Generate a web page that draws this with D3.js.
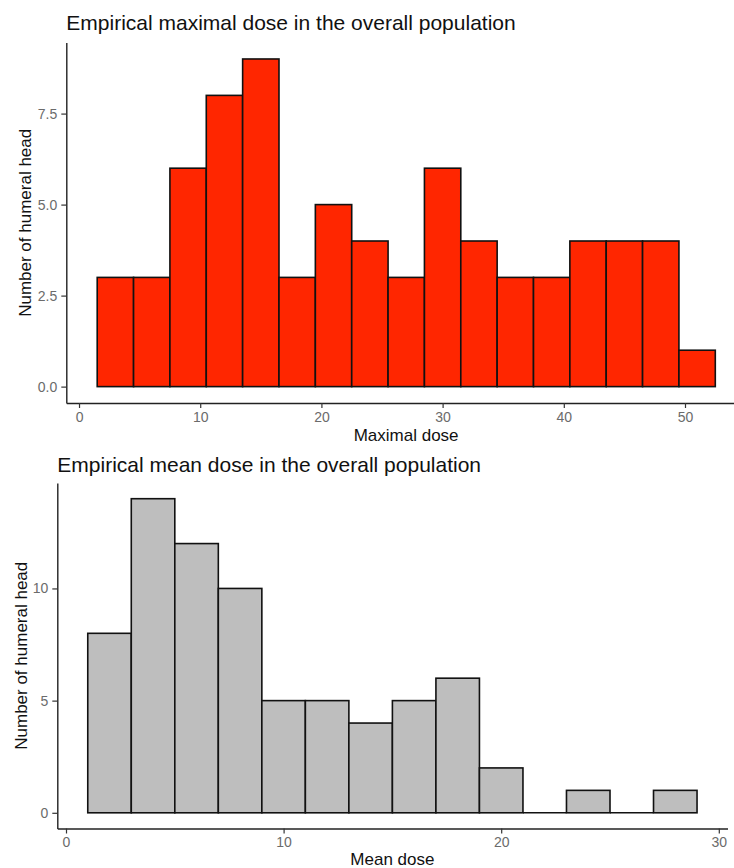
<!DOCTYPE html>
<html>
<head>
<meta charset="utf-8">
<script src="https://cdn.jsdelivr.net/npm/d3@7"></script>
<style>
  body { margin: 0; background: #fff; }
  svg { display: block; font-family: "Liberation Sans", Arial, Helvetica, sans-serif; }
</style>
</head>
<body>
<svg id="chart" width="734" height="868"></svg>
<script>
// ---- Data: top histogram (maximal dose) ----
const maxBinStart = [1.5, 4.5, 7.5, 10.5, 13.5, 16.5, 19.5, 22.5, 25.5, 28.5, 31.5, 34.5, 37.5, 40.5, 43.5, 46.5, 49.5];
const maxBinEnd   = [4.5, 7.5, 10.5, 13.5, 16.5, 19.5, 22.5, 25.5, 28.5, 31.5, 34.5, 37.5, 40.5, 43.5, 46.5, 49.5, 52.5];
const maxCounts   = [3, 3, 6, 8, 9, 3, 5, 4, 3, 6, 4, 3, 3, 4, 4, 4, 1];
const maxXTicks   = [0, 10, 20, 30, 40, 50];
const maxYTicks   = [0, 2.5, 5, 7.5];

// ---- Data: bottom histogram (mean dose) ----
const meanBinStart = [1, 3, 5, 7, 9, 11, 13, 15, 17, 19, 21, 23, 25, 27];
const meanBinEnd   = [3, 5, 7, 9, 11, 13, 15, 17, 19, 21, 23, 25, 27, 29];
const meanCounts   = [8, 14, 12, 10, 5, 5, 4, 5, 6, 2, 0, 1, 0, 1];
const meanXTicks   = [0, 10, 20, 30];
const meanYTicks   = [0, 5, 10];

const titles = ["Empirical maximal dose in the overall population", "Empirical mean dose in the overall population"];
const xTitles = ["Maximal dose", "Mean dose"];
const yTitle = "Number of humeral head";

const svg = d3.select("#chart");

function drawPanel(cfg) {
  const g = svg.append("g");
  const x = d3.scaleLinear().domain(cfg.xDomain).range(cfg.xRange);
  const y = d3.scaleLinear().domain(cfg.yDomain).range(cfg.yRange);

  const bins = cfg.starts.map((s, i) => ({ x0: s, x1: cfg.ends[i], n: cfg.counts[i] }));

  g.selectAll("rect.bar")
    .data(bins.filter(d => d.n > 0))
    .join("rect")
    .attr("class", "bar")
    .attr("x", d => x(d.x0))
    .attr("width", d => x(d.x1) - x(d.x0))
    .attr("y", d => y(d.n))
    .attr("height", d => y(0) - y(d.n))
    .attr("fill", cfg.fill)
    .attr("stroke", "#111")
    .attr("stroke-width", 1.6);

  // flat baseline for empty bins (ggplot draws zero-height rects)
  g.selectAll("line.zero")
    .data(bins.filter(d => d.n === 0))
    .join("line")
    .attr("class", "zero")
    .attr("x1", d => x(d.x0)).attr("x2", d => x(d.x1))
    .attr("y1", y(0)).attr("y2", y(0))
    .attr("stroke", "#111").attr("stroke-width", 1.6);

  const xAxis = g.append("g")
    .attr("transform", `translate(0,${cfg.yRange[0]})`)
    .call(d3.axisBottom(x).tickValues(cfg.xTicks).tickFormat(d3.format("d")).tickSize(5).tickSizeOuter(0).tickPadding(4));
  const yAxis = g.append("g")
    .attr("transform", `translate(${cfg.xRange[0]},0)`)
    .call(d3.axisLeft(y).tickValues(cfg.yTicks).tickFormat(cfg.yFormat).tickSize(5).tickSizeOuter(0).tickPadding(4));

  [xAxis, yAxis].forEach(a => {
    a.select(".domain").attr("stroke", "#222").attr("stroke-width", 1.4);
    a.selectAll(".tick line").attr("stroke", "#333").attr("stroke-width", 1.2);
    a.selectAll(".tick text").attr("fill", "#6b6b6b").style("font-size", "14px")
      .style("font-family", "'Liberation Sans', Arial, sans-serif");
  });

  g.append("text")
    .attr("x", cfg.xRange[0]).attr("y", cfg.titleY)
    .attr("fill", "#111").style("font-size", "21px")
    .text(cfg.title);

  g.append("text")
    .attr("x", (cfg.xRange[0] + Math.min(cfg.xRange[1], 746)) / 2).attr("y", cfg.xTitleY)
    .attr("text-anchor", "middle")
    .attr("fill", "#111").style("font-size", "17px")
    .text(cfg.xTitle);

  const cy = (cfg.yRange[0] + cfg.yRange[1]) / 2;
  g.append("text")
    .attr("transform", `translate(${cfg.yTitleX},${cy}) rotate(-90)`)
    .attr("text-anchor", "middle")
    .attr("fill", "#111").style("font-size", "17px")
    .text(yTitle);
}

drawPanel({
  starts: maxBinStart, ends: maxBinEnd, counts: maxCounts,
  xTicks: maxXTicks, yTicks: maxYTicks,
  xDomain: [-1.05, 55.05], xRange: [66.3, 746.2],
  yDomain: [-0.45, 9.45], yRange: [403, 42.6],
  yFormat: d3.format(".1f"),
  fill: "#ff2600",
  title: titles[0], titleY: 29.5,
  xTitle: xTitles[0], xTitleY: 441,
  yTitleX: 31
});

drawPanel({
  starts: meanBinStart, ends: meanBinEnd, counts: meanCounts,
  xTicks: meanXTicks, yTicks: meanYTicks,
  xDomain: [-0.4, 30.4], xRange: [57.3, 727.5],
  yDomain: [-0.7, 14.7], yRange: [828.5, 483],
  yFormat: d3.format("d"),
  fill: "#bebebe",
  title: titles[1], titleY: 471.5,
  xTitle: xTitles[1], xTitleY: 865,
  yTitleX: 27
});
</script>
</body>
</html>
